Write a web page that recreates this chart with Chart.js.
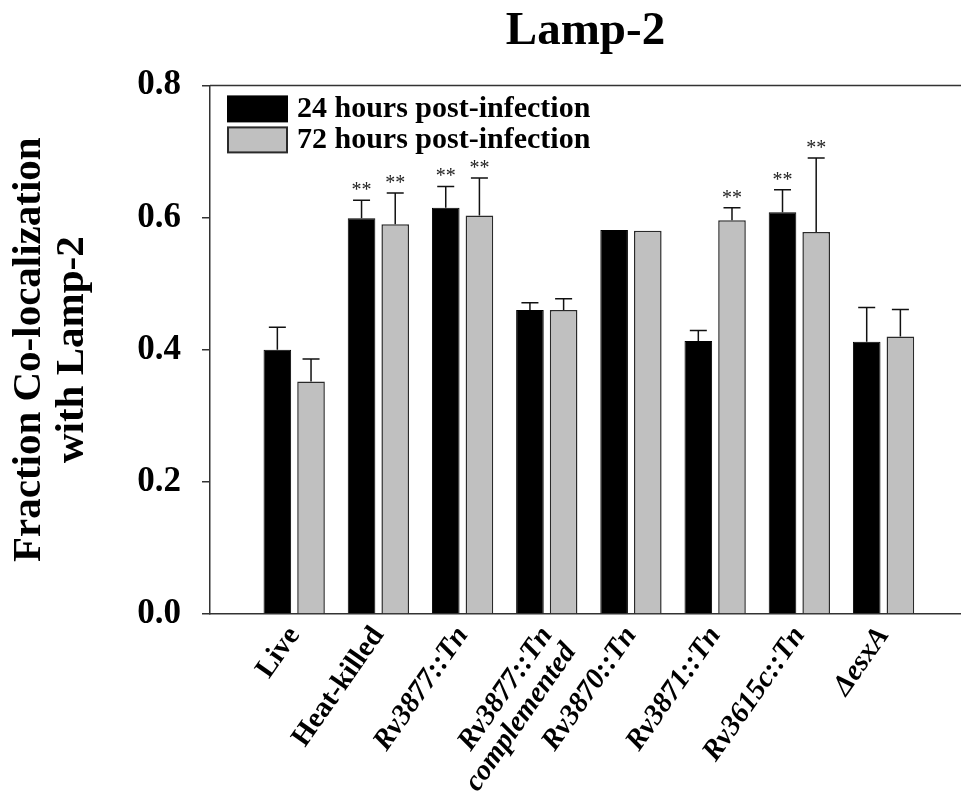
<!DOCTYPE html>
<html>
<head>
<meta charset="utf-8">
<script src="https://cdn.jsdelivr.net/npm/chart.js@4.4.0/dist/chart.umd.min.js"></script>
<style>
  html, body { margin: 0; padding: 0; background: #fff; }
</style>
</head>
<body>
<canvas id="lamp" width="961" height="803"></canvas>
<script>
// strains on the x axis
var strains = [
  'Live', 'Heat-killed', 'Rv3877::Tn', ['Rv3877::Tn', 'complemented'],
  'Rv3870::Tn', 'Rv3871::Tn', 'Rv3615c::Tn', '\u0394esxA'
];
// fraction co-localization with Lamp-2
var hours24 = [0.400, 0.599, 0.615, 0.460, 0.581, 0.413, 0.608, 0.412];
var hours72 = [0.352, 0.590, 0.603, 0.460, 0.580, 0.596, 0.578, 0.420];
// upper error bars
var err24 = [0.034, 0.027, 0.032, 0.011, 0, 0.016, 0.034, 0.052];
var err72 = [0.034, 0.047, 0.057, 0.017, 0, 0.019, 0.112, 0.041];
// ** marks
var sig24 = [false, true, true, false, false, false, true, false];
var sig72 = [false, true, true, false, false, true, true, false];
var yTicks = [0, 0.2, 0.4, 0.6, 0.8];

var serif = "'Liberation Serif', 'Times New Roman', serif";

function points(vals) {
  return vals.map(function (v, i) { return { x: i + 1, y: v }; });
}

// error bars, stars, legend in the plot and the top frame line
var extras = {
  id: 'extras',
  afterDatasetsDraw: function (chart) {
    var ctx = chart.ctx;
    var yScale = chart.scales.y;
    chart.data.datasets.forEach(function (ds, d) {
      var meta = chart.getDatasetMeta(d);
      meta.data.forEach(function (bar, i) {
        var top = bar.y;
        ctx.save();
        if (ds.err[i] > 0) {
          top = yScale.getPixelForValue(ds.data[i].y + ds.err[i]);
          ctx.strokeStyle = '#111';
          ctx.lineWidth = 1.5;
          ctx.beginPath();
          ctx.moveTo(bar.x, bar.y);
          ctx.lineTo(bar.x, top);
          ctx.moveTo(bar.x - 8.5, top);
          ctx.lineTo(bar.x + 8.5, top);
          ctx.stroke();
        }
        if (ds.sig[i]) {
          ctx.fillStyle = '#222';
          ctx.font = '20px ' + serif;
          ctx.textAlign = 'center';
          ctx.textBaseline = 'alphabetic';
          ctx.fillText('**', bar.x, top - 4);
        }
        ctx.restore();
      });
    });
  },
  afterDraw: function (chart) {
    var ctx = chart.ctx;
    var area = chart.chartArea;
    ctx.save();
    ctx.strokeStyle = '#333';
    ctx.lineWidth = 1.5;
    ctx.beginPath();
    ctx.moveTo(area.left, area.top);
    ctx.lineTo(area.right, area.top);
    ctx.stroke();

    chart.data.datasets.forEach(function (ds, d) {
      var bx = area.left + 18;
      var by = area.top + 11 + d * 31;
      ctx.fillStyle = ds.backgroundColor;
      ctx.fillRect(bx, by, 59, 25);
      ctx.strokeStyle = ds.borderColor;
      ctx.lineWidth = 2;
      ctx.strokeRect(bx, by, 59, 25);
      ctx.fillStyle = '#000';
      ctx.font = 'bold 30px ' + serif;
      ctx.textAlign = 'left';
      ctx.textBaseline = 'middle';
      ctx.fillText(ds.label, bx + 69, by + 13);
    });
    ctx.restore();
  }
};

var ctx = document.getElementById('lamp').getContext('2d');
var chart = new Chart(ctx, {
  type: 'bar',
  data: {
    datasets: [
      {
        label: '24 hours post-infection',
        data: points(hours24),
        err: err24,
        sig: sig24,
        backgroundColor: '#000000',
        borderColor: '#000000',
        borderWidth: 1
      },
      {
        label: '72 hours post-infection',
        data: points(hours72),
        err: err72,
        sig: sig72,
        backgroundColor: '#c0c0c0',
        borderColor: '#2a2a2a',
        borderWidth: 1.5
      }
    ]
  },
  options: {
    responsive: false,
    animation: false,
    categoryPercentage: 0.80,
    barPercentage: 0.82,
    layout: { padding: 0 },
    plugins: {
      legend: { display: false },
      tooltip: { enabled: false },
      title: {
        display: true,
        fullSize: false,
        text: 'Lamp-2',
        color: '#000',
        font: { family: serif, size: 47, weight: 'bold', lineHeight: 1.2 },
        padding: { top: 4, bottom: 25 }
      }
    },
    scales: {
      x: {
        type: 'linear',
        offset: false,
        min: 0,
        max: 8.92,
        afterBuildTicks: function (scale) {
          scale.ticks = strains.map(function (s, i) { return { value: i + 1 }; });
        },
        afterFit: function (scale) { scale.height = 189; },
        ticks: {
          autoSkip: false,
          minRotation: 55,
          maxRotation: 55,
          padding: 8,
          color: '#000',
          callback: function (value) { return strains[value - 1]; },
          font: function (c) {
            return { family: serif, size: 29, weight: 'bold', lineHeight: 1.0, style: c.index >= 2 ? 'italic' : 'normal' };
          }
        },
        grid: { display: false, drawTicks: false },
        border: { display: true, color: '#333', width: 1.5 }
      },
      y: {
        min: 0,
        max: 0.8,
        afterBuildTicks: function (scale) {
          scale.ticks = yTicks.map(function (v) { return { value: v }; });
        },
        afterFit: function (scale) { scale.width = 210; },
        ticks: {
          padding: 21,
          color: '#000',
          font: { family: serif, size: 35, weight: 'bold' },
          callback: function (v) { return v.toFixed(1); }
        },
        grid: { drawOnChartArea: false, drawTicks: true, tickLength: 8, color: '#333', lineWidth: 1.5 },
        border: { display: true, color: '#333', width: 1.5 },
        title: {
          display: true,
          text: ['Fraction Co-localization', 'with Lamp-2'],
          color: '#000',
          font: { family: serif, size: 41, weight: 'bold', lineHeight: 1.07 },
          padding: { top: 7, bottom: 0 }
        }
      }
    }
  },
  plugins: [extras]
});
</script>
</body>
</html>
